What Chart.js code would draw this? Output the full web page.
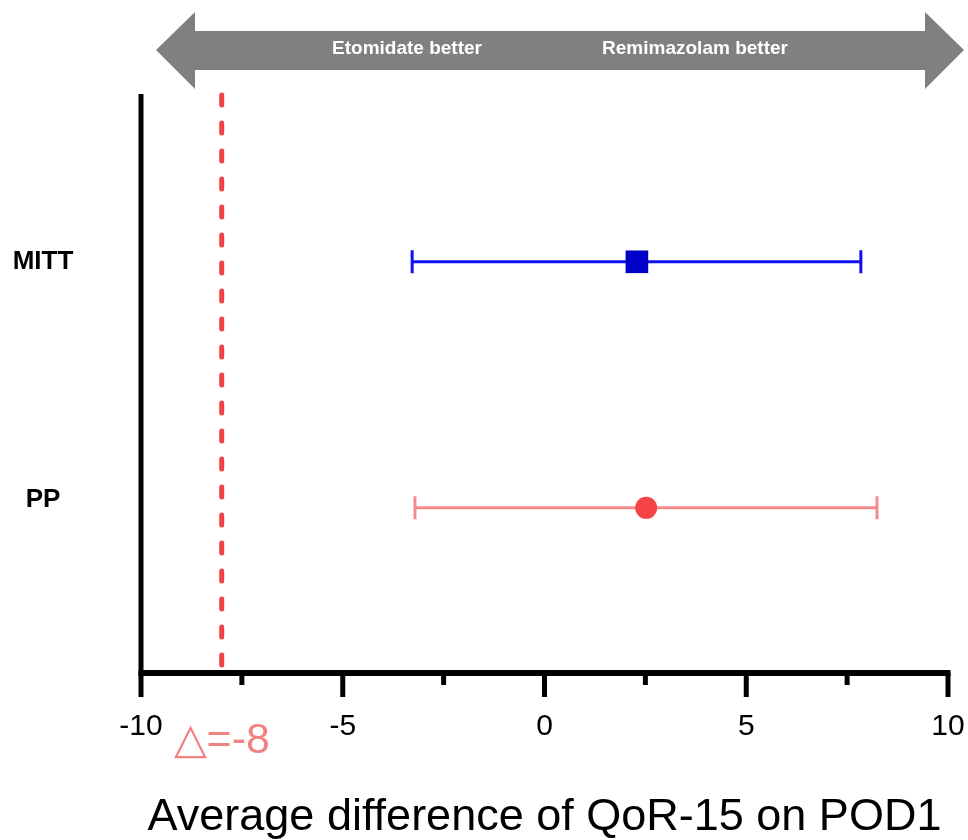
<!DOCTYPE html>
<html>
<head>
<meta charset="utf-8">
<script src="https://cdn.jsdelivr.net/npm/chart.js@4"></script>
<style>
  html, body { margin: 0; padding: 0; background: #ffffff; }
  #wrap { width: 968px; height: 840px; }
</style>
</head>
<body>
<div id="wrap"><canvas id="c" width="968" height="840"></canvas></div>
<script>
// ---- data ----
const groups = ["MITT", "PP"];
const groupPos = [2.49, 1];
const means = [2.29, 2.52];
const lowCI = [-3.28, -3.21];
const highCI = [7.84, 8.24];
const margin = -8;
const marginLabel = "△=-8";
const xMajorTicks = [-10, -5, 0, 5, 10];
const xMinorTicks = [-7.5, -2.5, 2.5, 7.5];
const xTitle = "Average difference of QoR-15 on POD1";
const arrowLeftText = "Etomidate better";
const arrowRightText = "Remimazolam better";

const pointColors = ["#0000c8", "#f44444"];
const barColors = ["#1010ee", "#f58b8b"];
const pointStyles = ["rect", "circle"];
const pointRadii = [16, 11];

const FONT = '"Liberation Sans", Arial, sans-serif';

const errorBars = {
  id: 'errorBars',
  beforeDatasetsDraw(chart) {
    const ctx = chart.ctx, xs = chart.scales.x, ys = chart.scales.y;
    ctx.save();
    groups.forEach((g, i) => {
      const y = ys.getPixelForValue(groupPos[i]);
      const x1 = xs.getPixelForValue(lowCI[i]);
      const x2 = xs.getPixelForValue(highCI[i]);
      ctx.strokeStyle = barColors[i];
      ctx.lineWidth = 3;
      ctx.lineCap = 'butt';
      ctx.beginPath();
      ctx.moveTo(x1, y); ctx.lineTo(x2, y);
      ctx.moveTo(x1, y - 11.5); ctx.lineTo(x1, y + 11.5);
      ctx.moveTo(x2, y - 11.5); ctx.lineTo(x2, y + 11.5);
      ctx.stroke();
    });
    ctx.restore();
  }
};

const decor = {
  id: 'decor',
  afterDraw(chart) {
    const ctx = chart.ctx, xs = chart.scales.x, ys = chart.scales.y;
    const a = chart.chartArea;
    ctx.save();
    // axes
    ctx.strokeStyle = '#000';
    ctx.lineCap = 'butt';
    ctx.lineWidth = 5;
    ctx.beginPath();
    ctx.moveTo(a.left, a.top - 1);
    ctx.lineTo(a.left, a.bottom + 3);
    ctx.stroke();
    ctx.lineWidth = 6;
    ctx.beginPath();
    ctx.moveTo(a.left - 2.5, a.bottom);
    ctx.lineTo(xs.getPixelForValue(10) + 2.5, a.bottom);
    ctx.stroke();
    // ticks
    ctx.lineWidth = 5;
    xMajorTicks.forEach(v => {
      const x = xs.getPixelForValue(v);
      ctx.beginPath(); ctx.moveTo(x, a.bottom); ctx.lineTo(x, a.bottom + 24); ctx.stroke();
    });
    xMinorTicks.forEach(v => {
      const x = xs.getPixelForValue(v);
      ctx.beginPath(); ctx.moveTo(x, a.bottom); ctx.lineTo(x, a.bottom + 12); ctx.stroke();
    });
    // tick labels
    ctx.fillStyle = '#000';
    ctx.font = '30px ' + FONT;
    ctx.textAlign = 'center';
    ctx.textBaseline = 'alphabetic';
    xMajorTicks.forEach(v => {
      ctx.fillText(String(v), xs.getPixelForValue(v), a.bottom + 62);
    });
    // margin label
    ctx.fillStyle = '#f28282';
    ctx.font = '43px ' + FONT;
    ctx.fillText(marginLabel, xs.getPixelForValue(margin), a.bottom + 80);
    // title
    ctx.fillStyle = '#000';
    ctx.font = '45px ' + FONT;
    ctx.fillText(xTitle, xs.getPixelForValue(0), 830);
    // y labels
    ctx.font = 'bold 26px ' + FONT;
    ctx.textBaseline = 'middle';
    groups.forEach((g, i) => {
      ctx.fillText(g, 43, ys.getPixelForValue(groupPos[i]) - (i === 1 ? 8 : 0));
    });
    // top double arrow
    const cy = 50;
    ctx.fillStyle = '#808080';
    ctx.beginPath();
    ctx.moveTo(156, cy);
    ctx.lineTo(195, 12);
    ctx.lineTo(195, 31);
    ctx.lineTo(925, 31);
    ctx.lineTo(925, 12);
    ctx.lineTo(964, cy);
    ctx.lineTo(925, 89);
    ctx.lineTo(925, 70);
    ctx.lineTo(195, 70);
    ctx.lineTo(195, 89);
    ctx.closePath();
    ctx.fill();
    ctx.fillStyle = '#ffffff';
    ctx.font = 'bold 19px ' + FONT;
    ctx.textBaseline = 'alphabetic';
    ctx.fillText(arrowLeftText, 407, 54);
    ctx.fillText(arrowRightText, 695, 54);
    ctx.restore();
  }
};

const datasets = groups.map((g, i) => ({
  label: g,
  data: [{ x: means[i], y: groupPos[i] }],
  pointStyle: pointStyles[i],
  pointRadius: pointRadii[i],
  pointHoverRadius: pointRadii[i],
  pointBackgroundColor: pointColors[i],
  pointBorderColor: pointColors[i],
  pointBorderWidth: 0,
  showLine: false,
  order: 0
}));
datasets.push({
  type: 'line',
  label: 'margin',
  data: [{ x: margin, y: 3.5 }, { x: margin, y: 0 }],
  borderColor: '#f04444',
  borderWidth: 5,
  borderDash: [10, 18],
  borderCapStyle: 'round',
  pointRadius: 0,
  fill: false,
  clip: false,
  order: 1
});

new Chart(document.getElementById('c'), {
  type: 'scatter',
  data: { datasets },
  options: {
    responsive: false,
    animation: false,
    events: [],
    layout: { padding: { left: 141, right: 20, top: 95, bottom: 167 } },
    plugins: { legend: { display: false }, tooltip: { enabled: false } },
    scales: {
      x: { type: 'linear', min: -10, max: 10, display: false },
      y: { type: 'linear', min: 0, max: 3.5, display: false }
    }
  },
  plugins: [errorBars, decor]
});
</script>
</body>
</html>
